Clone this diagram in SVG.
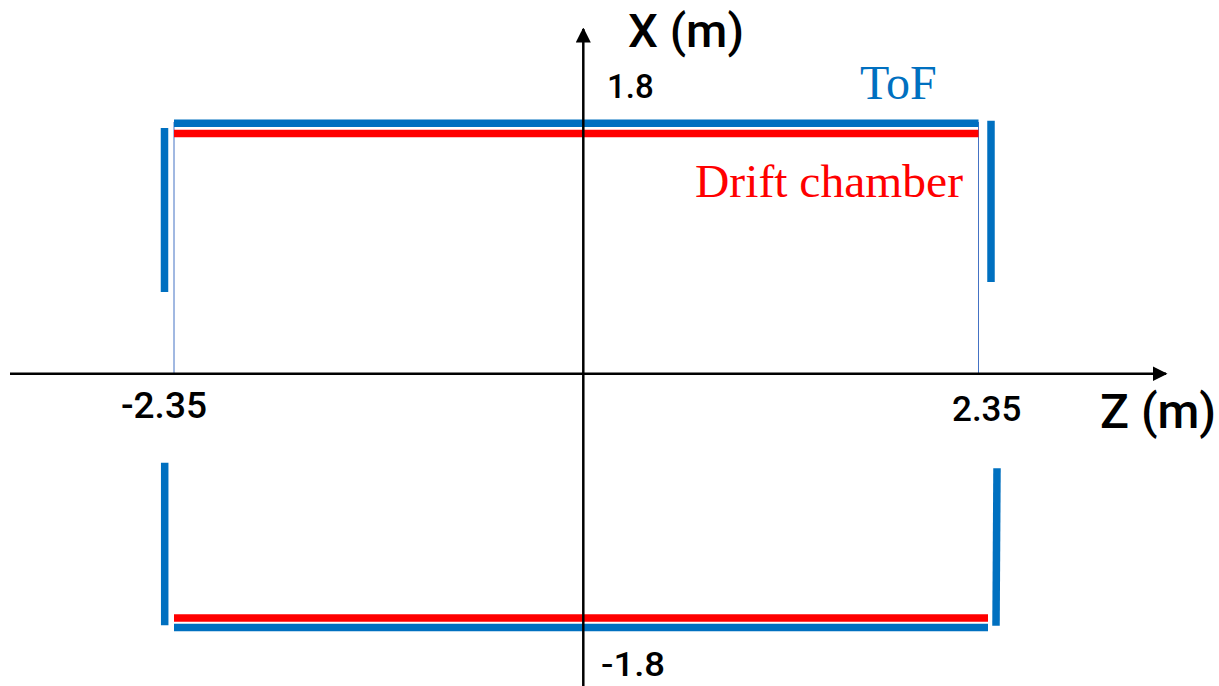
<svg xmlns="http://www.w3.org/2000/svg" width="1219" height="686" viewBox="0 0 1219 686">
<style>
.lbl{font-family:Roboto,"Liberation Sans",Arial,sans-serif;font-weight:500;fill:#000}
.ser{font-family:"Liberation Serif","Times New Roman",serif}
.tof{stroke:#0070C0;stroke-width:7.5;fill:none}
.dc{stroke:#FF0000;stroke-width:7.5;fill:none}
.guide{stroke:#4472C4;stroke-width:1;fill:none}
.axis{stroke:#000;stroke-width:2.5;fill:none}
</style>
<defs>
<marker id="arr" viewBox="0 0 10 10" refX="9" refY="5" markerWidth="6" markerHeight="6" markerUnits="strokeWidth" orient="auto">
<path d="M0,0 L10,5 L0,10 Z" fill="#000"/>
</marker>
</defs>
<rect width="1219" height="686" fill="#fff"/>
<g id="guides">
<line class="guide" x1="174" y1="122" x2="174" y2="374"/>
<line class="guide" x1="978.5" y1="122" x2="978.5" y2="374"/>
</g>
<g id="tof">
<line class="tof" x1="174" y1="123.3" x2="978.5" y2="123.3"/>
<line class="tof" x1="174" y1="627.6" x2="988" y2="627.6"/>
<line class="tof" x1="164.5" y1="128" x2="164.5" y2="292"/>
<line class="tof" x1="991" y1="120.7" x2="991" y2="282"/>
<line class="tof" x1="164.7" y1="462.7" x2="164.7" y2="625.3"/>
<line class="tof" x1="997" y1="468.3" x2="996" y2="625.7"/>
</g>
<g id="drift">
<line class="dc" x1="174" y1="133.5" x2="978.5" y2="133.5"/>
<line class="dc" x1="174" y1="618" x2="988" y2="618"/>
</g>
<g id="connectors">
<line class="axis" x1="10" y1="373.7" x2="1166" y2="373.7" marker-end="url(#arr)"/>
<line class="axis" x1="583.3" y1="686" x2="583.3" y2="29" marker-end="url(#arr)"/>
</g>
<g id="labels">
<text class="lbl" x="628" y="47" font-size="46" textLength="116" lengthAdjust="spacingAndGlyphs">X (m)</text>
<text class="lbl" x="607" y="98.3" font-size="33">1.8</text>
<text class="lbl" x="121" y="418.3" font-size="37">-2.35</text>
<text class="lbl" x="952" y="420.7" font-size="35">2.35</text>
<text class="lbl" x="1100" y="428.3" font-size="48">Z (m)</text>
<text class="lbl" x="601" y="676" font-size="34" textLength="64" lengthAdjust="spacingAndGlyphs">-1.8</text>
<text class="ser" x="860" y="99" font-size="48" fill="#0070C0">ToF</text>
<text class="ser" x="695" y="196.7" font-size="47" fill="#FF0000" textLength="268" lengthAdjust="spacingAndGlyphs">Drift chamber</text>
</g>
</svg>
